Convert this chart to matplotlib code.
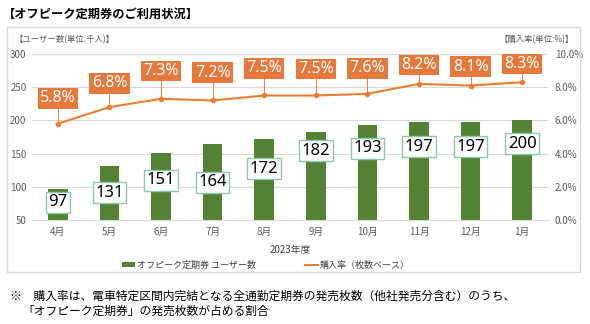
import matplotlib
matplotlib.use("Agg")
import matplotlib.pyplot as plt
from matplotlib.patches import Rectangle, Patch
from matplotlib.lines import Line2D
from matplotlib.ticker import FuncFormatter

plt.rcParams['font.family'] = ['Noto Sans CJK JP', 'DejaVu Sans']

months = ['4月', '5月', '6月', '7月', '8月', '9月', '10月', '11月', '12月', '1月']
users = [97, 131, 151, 164, 172, 182, 193, 197, 197, 200]
rate = [5.8, 6.8, 7.3, 7.2, 7.5, 7.5, 7.6, 8.2, 8.1, 8.3]
# label box anchor positions (axis units)
user_label_y = [77, 91, 110, 107, 127, 154, 158, 160, 160, 165]
rate_label_y = [7.33, 8.23, 8.98, 8.87, 9.14, 9.1, 9.14, 9.34, 9.24, 9.4]

GREEN = '#548235'
ORANGE = '#E5783A'
GRAY = '#595959'

fig = plt.figure(figsize=(5.9, 3.24), dpi=100)
fig.patches.append(Rectangle((7/590, 1-272/324), 573/590, 245/324, transform=fig.transFigure,
                             fill=False, edgecolor='#D9D9D9', linewidth=1.0))

ax = fig.add_axes([32/590, 1-220/324, 516/590, 166/324])
x = list(range(len(months)))
ax.bar(x, users, width=0.38, color=GREEN, zorder=2, bottom=0)
ax.set_ylim(50, 300)
ax.set_xlim(-0.5, len(months)-0.5)
ax.set_yticks([50, 100, 150, 200, 250, 300])
ax.grid(axis='y', color='#D9D9D9', linewidth=0.8, zorder=0)
ax.set_xticks(x)
ax.set_xticklabels(months, fontsize=7, color=GRAY)
ax.tick_params(axis='both', length=0, labelsize=7, colors=GRAY)
ax.tick_params(axis='y', pad=4)
ax.tick_params(axis='x', pad=5)
for s in ['top', 'right', 'left']:
    ax.spines[s].set_visible(False)
ax.spines['bottom'].set_color('#D9D9D9')
ax.set_xlabel('2023年度', fontsize=7, color='#404040', labelpad=6)

for xi, v, ly in zip(x, users, user_label_y):
    ax.text(xi, ly, f'{v}', ha='center', va='center', fontsize=12, color='black', zorder=5,
            family=['Noto Sans'],
            bbox=dict(boxstyle='square,pad=0.15', facecolor='white', edgecolor='#8CC7A8', linewidth=1.0))

ax2 = ax.twinx()
ax2.set_ylim(0, 10)
ax2.set_yticks([0, 2, 4, 6, 8, 10])
ax2.yaxis.set_major_formatter(FuncFormatter(lambda v, p: f'{v:.1f}%'))
ax2.tick_params(axis='y', length=0, labelsize=7, colors=GRAY, pad=5)
for s in ['top', 'right', 'left', 'bottom']:
    ax2.spines[s].set_visible(False)
ax2.plot(x, rate, color='#ED7D31', linewidth=1.5, marker='o', markersize=3, zorder=3)
for xi, v, ly in zip(x, rate, rate_label_y):
    ax2.plot([xi, xi], [v, ly], color='#ED7D31', linewidth=0.7, zorder=3)
    ax2.text(xi, ly, f'{v:.1f}%', ha='center', va='center', fontsize=11.5, color='white', zorder=6,
             family=['Noto Sans'],
             bbox=dict(boxstyle='square,pad=0.15', facecolor=ORANGE, edgecolor='none'))

fig.text(3/590, 1-14/324, '【オフピーク定期券のご利用状況】', fontsize=8.8, fontweight='bold',
         ha='left', va='center', color='black')
fig.text(14/590, 1-40/324, '【ユーザー数(単位:千人)】', fontsize=6, ha='left', va='center', color=GRAY)
fig.text(574/590, 1-40/324, '【購入率(単位:%)】', fontsize=6, ha='right', va='center', color=GRAY)

handles = [Patch(facecolor=GREEN), Line2D([0], [0], color='#ED7D31', linewidth=1.5)]
fig.legend(handles, ['オフピーク定期券 ユーザー数', '購入率（枚数ベース）'], loc='center',
           bbox_to_anchor=(266/590, 1-265/324), ncol=2, frameon=False, fontsize=6.5,
           handlelength=1.4, handleheight=0.5, columnspacing=5.5, handletextpad=0.2,
           labelcolor='#404040')

fig.text(10/590, 1-296/324, '※　購入率は、電車特定区間内完結となる全通勤定期券の発売枚数（他社発売分含む）のうち、',
         fontsize=8.5, ha='left', va='center', color='black')
fig.text(22/590, 1-311/324, '「オフピーク定期券」の発売枚数が占める割合',
         fontsize=8.5, ha='left', va='center', color='black')

fig.savefig('out.png', dpi=100)
